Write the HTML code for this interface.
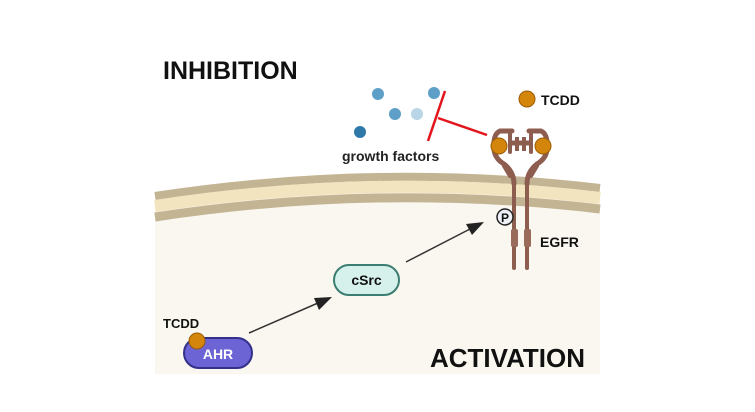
<!DOCTYPE html>
<html><head><style>html,body{margin:0;padding:0;background:#fff}svg{display:block}</style></head>
<body>
<svg width="755" height="412" viewBox="0 0 755 412" xmlns="http://www.w3.org/2000/svg" font-family="Liberation Sans, sans-serif">
<rect width="755" height="412" fill="#fff"/>
<!-- cell -->
<path d="M155,192 Q378,158 600,184 L600,374 L155,374 Z" fill="#faf7f0"/>
<path d="M155,196 Q378,162 600,188" stroke="#c3b593" stroke-width="8" fill="none"/>
<path d="M155,206 Q378,172 600,198" stroke="#f3e4c0" stroke-width="12" fill="none"/>
<path d="M155,217 Q378,183 600,209" stroke="#c3b593" stroke-width="9" fill="none"/>
<rect x="155" y="374" width="445" height="2" fill="#fff"/>

<text x="163" y="79" font-size="25" font-weight="bold" fill="#111">INHIBITION</text>
<text x="430" y="367" font-size="26" font-weight="bold" fill="#111">ACTIVATION</text>

<!-- growth factors -->
<circle cx="378" cy="94" r="6" fill="#5d9fc6"/>
<circle cx="434" cy="93" r="6" fill="#5d9fc6"/>
<circle cx="395" cy="114" r="6" fill="#5d9fc6"/>
<circle cx="417" cy="114" r="6" fill="#b8d6e6"/>
<circle cx="360" cy="132" r="6" fill="#2f78a8"/>
<text x="342" y="161" font-size="14" font-weight="bold" fill="#222">growth factors</text>
<!-- inhibition -->
<line x1="445" y1="91" x2="428" y2="141" stroke="#e3161e" stroke-width="2.5"/>
<line x1="438" y1="118" x2="487" y2="135" stroke="#e3161e" stroke-width="2.5"/>

<!-- TCDD legend -->
<circle cx="527" cy="99" r="8" fill="#d4860c" stroke="#9a5c05" stroke-width="1"/>
<text x="541" y="105" font-size="14" font-weight="bold" fill="#111">TCDD</text>

<!-- EGFR -->
<g stroke="#8d5e4f" fill="none" stroke-linecap="round">
<line x1="514" y1="180" x2="514" y2="268" stroke-width="4"/>
<line x1="527" y1="180" x2="527" y2="268" stroke-width="4"/>
<path d="M514,184 Q514,172 504,164 Q494,158 494,148 Q493,134 500,131 L512,131" stroke-width="5"/>
<path d="M527,184 Q527,172 537,164 Q547,158 547,148 Q548,134 541,131 L529,131" stroke-width="5"/>
<path d="M504,166 L510,176 M537,166 L531,176" stroke-width="4"/>
<path d="M510,134 L510,152 M531,134 L531,152" stroke-width="4"/>
<path d="M512,143 L529,143" stroke-width="5"/>
</g>
<rect x="515" y="137" width="4" height="14" fill="#8d5e4f"/>
<rect x="522" y="137" width="4" height="14" fill="#8d5e4f"/>
<rect x="511" y="229" width="7" height="18" rx="2" fill="#9a6a5a"/>
<rect x="524" y="229" width="7" height="18" rx="2" fill="#9a6a5a"/>
<circle cx="499" cy="146" r="8" fill="#d4860c" stroke="#9a5c05"/>
<circle cx="543" cy="146" r="8" fill="#d4860c" stroke="#9a5c05"/>
<circle cx="505" cy="217" r="8" fill="#eef0f6" stroke="#222" stroke-width="1.5"/>
<text x="505" y="222" font-size="12" font-weight="bold" text-anchor="middle" fill="#111">P</text>
<text x="540" y="247" font-size="14" font-weight="bold" fill="#111">EGFR</text>

<!-- arrows -->
<line x1="249" y1="333" x2="318" y2="303" stroke="#333" stroke-width="1.5"/>
<polygon points="332,297 314,298 319,310" fill="#222"/>
<line x1="406" y1="262" x2="470" y2="229" stroke="#333" stroke-width="1.5"/>
<polygon points="484,222 466,224 472,235" fill="#222"/>

<!-- cSrc -->
<rect x="334" y="265" width="65" height="30" rx="15" fill="#d6f1ec" stroke="#3b7d70" stroke-width="2"/>
<text x="366.5" y="285" font-size="14" font-weight="bold" text-anchor="middle" fill="#111">cSrc</text>

<!-- AHR -->
<text x="163" y="328" font-size="13" font-weight="bold" fill="#111">TCDD</text>
<rect x="184" y="338" width="68" height="30" rx="15" fill="#6c63d4" stroke="#33308a" stroke-width="2"/>
<text x="218" y="359" font-size="14" font-weight="bold" text-anchor="middle" fill="#fff">AHR</text>
<circle cx="197" cy="341" r="8" fill="#d4860c" stroke="#9a5c05"/>
</svg>
</body></html>
